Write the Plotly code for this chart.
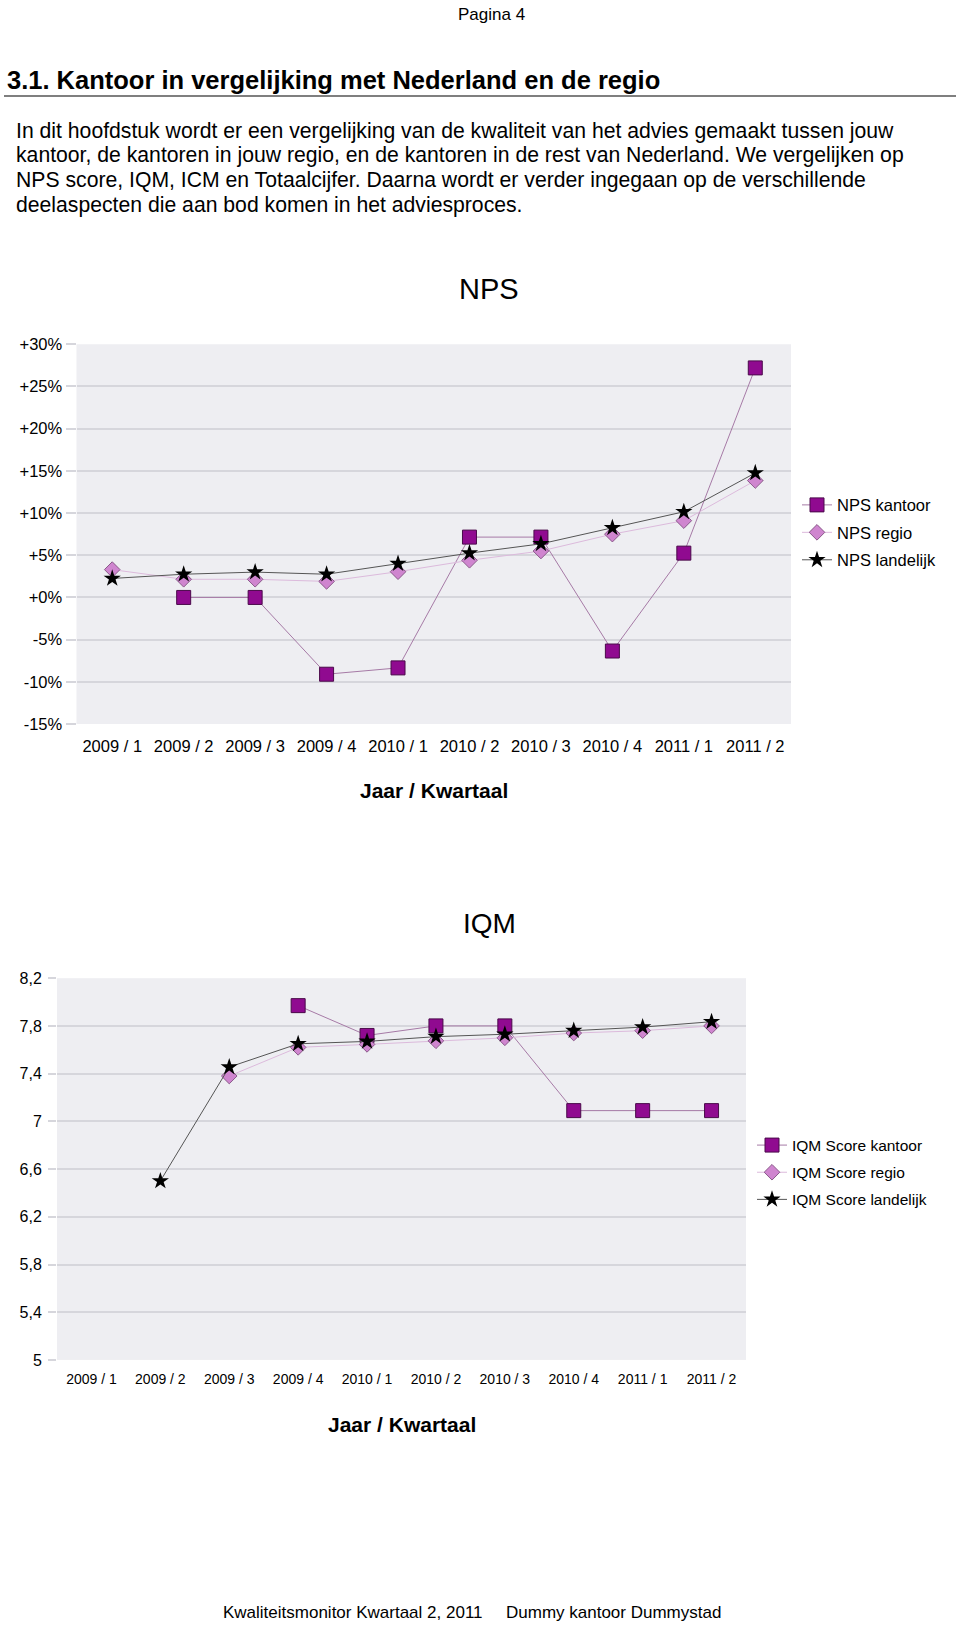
import plotly.graph_objects as go

W, H = 960, 1632
FONT = "Liberation Sans, Arial, sans-serif"

quarters = ["2009 / 1", "2009 / 2", "2009 / 3", "2009 / 4", "2010 / 1",
            "2010 / 2", "2010 / 3", "2010 / 4", "2011 / 1", "2011 / 2"]

# NPS (%)
nps_kantoor = [None, 0.0, 0.0, -9.1, -8.35, 7.15, 7.15, -6.35, 5.25, 27.2]
nps_regio = [3.3, 2.15, 2.15, 1.9, 3.05, 4.4, 5.5, 7.5, 9.1, 13.85]
nps_landelijk = [2.25, 2.75, 3.0, 2.75, 4.0, 5.25, 6.35, 8.25, 10.15, 14.75]
nps_tickvals = [-15, -10, -5, 0, 5, 10, 15, 20, 25, 30]
nps_ticktext = ["-15%", "-10%", "-5%", "+0%", "+5%", "+10%", "+15%", "+20%", "+25%", "+30%"]

# IQM
iqm_kantoor = [None, None, None, 7.97, 7.72, 7.80, 7.80, 7.09, 7.09, 7.09]
iqm_regio = [None, None, 7.38, 7.62, 7.645, 7.675, 7.70, 7.74, 7.76, 7.80]
iqm_landelijk = [None, 6.50, 7.455, 7.65, 7.67, 7.71, 7.73, 7.76, 7.79, 7.835]
iqm_tickvals = [5, 5.4, 5.8, 6.2, 6.6, 7.0, 7.4, 7.8, 8.2]
iqm_ticktext = ["5", "5,4", "5,8", "6,2", "6,6", "7", "7,4", "7,8", "8,2"]

paragraph = [
    "In dit hoofdstuk wordt er een vergelijking van de kwaliteit van het advies gemaakt tussen jouw",
    "kantoor, de kantoren in jouw regio, en de kantoren in de rest van Nederland. We vergelijken op",
    "NPS score, IQM, ICM en Totaalcijfer. Daarna wordt er verder ingegaan op de verschillende",
    "deelaspecten die aan bod komen in het adviesproces.",
]


def px(x):
    return x / W


def py(y):
    return 1 - y / H


KANTOOR_FILL = "#900a90"
KANTOOR_EDGE = "#4a0a4a"
KANTOOR_LINE = "#a67aa6"
REGIO_FILL = "#cf85cf"
REGIO_EDGE = "#8a5a8a"
REGIO_LINE = "#dcbadc"
LAND_LINE = "#555555"
BG = "#eeeef2"
GRID = "#d6d6dc"

fig = go.Figure()


def add_series(x, y, name, kind, xa, ya, legend):
    if kind == "kantoor":
        marker = dict(symbol="square", size=14, color=KANTOOR_FILL,
                      line=dict(color=KANTOOR_EDGE, width=1))
        line = dict(color=KANTOOR_LINE, width=1)
    elif kind == "regio":
        marker = dict(symbol="diamond", size=12, color=REGIO_FILL,
                      line=dict(color=REGIO_EDGE, width=1))
        line = dict(color=REGIO_LINE, width=1)
    else:
        marker = dict(symbol="star", size=13, color="#000000",
                      line=dict(color="#000000", width=0))
        line = dict(color=LAND_LINE, width=1)
    fig.add_trace(go.Scatter(
        x=x, y=y, name=name, mode="lines+markers", marker=marker, line=line,
        xaxis=xa, yaxis=ya, legend=legend, legendgroup=name,
        connectgaps=False, hoverinfo="x+y+name"))


add_series(quarters, nps_kantoor, "NPS kantoor", "kantoor", "x", "y", "legend")
add_series(quarters, nps_regio, "NPS regio", "regio", "x", "y", "legend")
add_series(quarters, nps_landelijk, "NPS landelijk", "landelijk", "x", "y", "legend")

add_series(quarters, iqm_kantoor, "IQM Score kantoor", "kantoor", "x2", "y2", "legend2")
add_series(quarters, iqm_regio, "IQM Score regio", "regio", "x2", "y2", "legend2")
add_series(quarters, iqm_landelijk, "IQM Score landelijk", "landelijk", "x2", "y2", "legend2")

xcommon = dict(type="category", categoryorder="array", categoryarray=quarters,
               range=[-0.5, 9.5], showgrid=False, zeroline=False, showline=False,
               ticks="", fixedrange=True)
ycommon = dict(showgrid=True, gridcolor=GRID, gridwidth=1.5, zeroline=False,
               showline=False, ticks="outside", tickcolor=GRID, tickwidth=1.5,
               fixedrange=True)

annotations = []


def ann(text, x, y, size, bold=False, xanchor="center", color="#000000"):
    annotations.append(dict(
        text=("<b>%s</b>" % text) if bold else text, x=px(x), y=py(y),
        xref="paper", yref="paper", xanchor=xanchor, yanchor="middle",
        showarrow=False, font=dict(family=FONT, size=size, color=color)))


ann("Pagina 4", 492, 6, 17)
ann("3.1. Kantoor in vergelijking met Nederland en de regio", 5, 72, 25.5, bold=True, xanchor="left")
for i, line in enumerate(paragraph):
    ann(line, 13.5, 123 + 25 * i, 21.2, xanchor="left")
ann("NPS", 489, 283, 29)
ann("Jaar / Kwartaal", 434, 790, 21, bold=True)
ann("IQM", 490, 925, 28)
ann("Jaar / Kwartaal", 402, 1431, 21, bold=True)
ann("Kwaliteitsmonitor Kwartaal 2, 2011", 221, 1621, 17, xanchor="left")
ann("Dummy kantoor Dummystad", 504, 1621, 17, xanchor="left")

fig.update_layout(
    width=W, height=H, autosize=False,
    margin=dict(l=0, r=0, t=0, b=0),
    paper_bgcolor="#ffffff", plot_bgcolor=BG,
    font=dict(family=FONT, color="#000000"),
    xaxis=dict(xcommon, domain=[px(76.5), px(791)], anchor="y", ticklabelstandoff=10,
               tickfont=dict(size=16.5, family=FONT)),
    yaxis=dict(ycommon, domain=[py(723), py(339)], anchor="x", range=[-15, 30],
               tickvals=nps_tickvals, ticktext=nps_ticktext, ticklen=10,
               tickfont=dict(size=16.5, family=FONT)),
    xaxis2=dict(xcommon, domain=[px(57), px(746)], anchor="y2", ticklabelstandoff=9,
                tickfont=dict(size=14, family=FONT)),
    yaxis2=dict(ycommon, domain=[py(1366), py(980)], anchor="x2", range=[5, 8.2],
                tickvals=iqm_tickvals, ticktext=iqm_ticktext, ticklen=8,
                ticklabelstandoff=3, tickfont=dict(size=16, family=FONT)),
    legend=dict(x=px(797), y=py(484), xanchor="left", yanchor="top",
                bgcolor="rgba(0,0,0,0)", tracegroupgap=3, traceorder="grouped",
                font=dict(size=16.5, family=FONT)),
    legend2=dict(x=px(752), y=py(1132), xanchor="left", yanchor="top",
                 bgcolor="rgba(0,0,0,0)", tracegroupgap=4, traceorder="grouped",
                 font=dict(size=15.5, family=FONT)),
    shapes=[dict(type="line", xref="paper", yref="paper", x0=px(4), x1=px(956),
                 y0=py(88), y1=py(88), line=dict(color="#555555", width=1.5))],
    annotations=annotations,
    showlegend=True,
)

fig.write_html("out.html", config={"displayModeBar": False},
               post_script="document.body.style.margin='0';")
